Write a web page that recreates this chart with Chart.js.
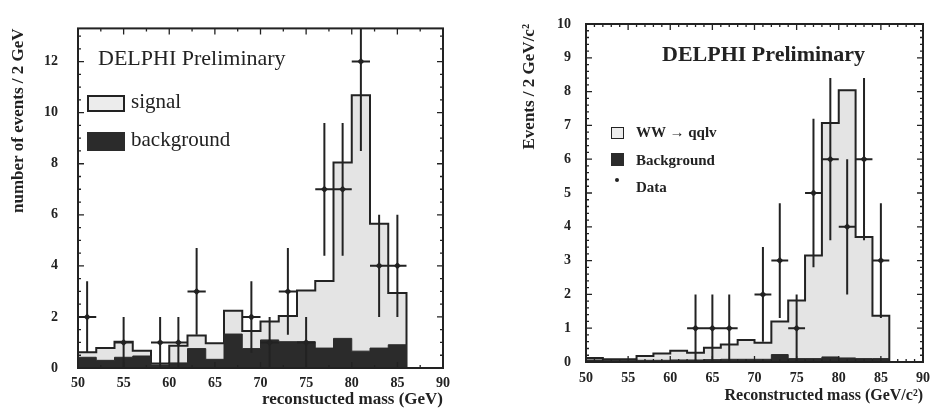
<!DOCTYPE html>
<html lang="en">
<head>
<meta charset="UTF-8">
<title>DELPHI Preliminary - reconstructed mass</title>
<script src="https://cdn.jsdelivr.net/npm/chart.js@4"></script>
<style>
  body { margin: 0; background: #fff; }
  #page { position: relative; width: 938px; height: 410px; overflow: hidden;
          font-family: "Liberation Serif", "DejaVu Serif", serif; color: #222; }
  .panel { position: absolute; top: 0; }
  .note { position: absolute; line-height: 1; white-space: nowrap; }
  .box { position: absolute; box-sizing: border-box; }
</style>
</head>
<body>
<div id="page">
  <canvas id="left" class="panel" width="470" height="410" style="left:0"></canvas>
  <canvas id="right" class="panel" width="468" height="410" style="left:470px"></canvas>

  <!-- left panel labels -->
  <div class="note" style="left:98px;top:47px;font-size:22px">DELPHI Preliminary</div>
  <div class="box" style="left:87px;top:95px;width:38px;height:17px;border:2px solid #222;background:#ececec"></div>
  <div class="note" style="left:131px;top:91px;font-size:21px">signal</div>
  <div class="box" style="left:87px;top:132px;width:38px;height:19px;background:#2b2b2b"></div>
  <div class="note" style="left:131px;top:129px;font-size:21px">background</div>

  <!-- right panel labels -->
  <div class="note" style="left:662px;top:43px;font-size:22px;font-weight:bold">DELPHI Preliminary</div>
  <div class="box" style="left:611px;top:127px;width:13px;height:12px;border:1.5px solid #222;background:#ececec"></div>
  <div class="note" style="left:636px;top:125px;font-size:15px;font-weight:bold">WW → qqlv</div>
  <div class="box" style="left:611px;top:153px;width:13px;height:13px;background:#2b2b2b"></div>
  <div class="note" style="left:636px;top:153px;font-size:15px;font-weight:bold">Background</div>
  <div class="box" style="left:615px;top:178px;width:4px;height:4px;border-radius:2px;background:#222"></div>
  <div class="note" style="left:636px;top:180px;font-size:15px;font-weight:bold">Data</div>
</div>

<script>
// bin lower edges (2 GeV bins)
const binLow = [50, 52, 54, 56, 58, 60, 62, 64, 66, 68, 70, 72, 74, 76, 78, 80, 82, 84];
const binWidth = 2;

// left: signal+background total, and background alone
const leftTotal = [0.62, 0.78, 1.03, 0.68, 0.18, 0.87, 1.27, 0.97, 2.24, 1.45, 1.82, 2.04, 3.04, 3.41, 8.05, 10.68, 5.65, 2.94];
const leftBackground = [0.42, 0.3, 0.42, 0.47, 0.12, 0.2, 0.76, 0.34, 1.33, 0.76, 1.1, 1.03, 1.03, 0.78, 1.16, 0.66, 0.78, 0.91];
const leftDataMass = [51, 55, 59, 61, 63, 69, 71, 73, 75, 77, 79, 81, 83, 85];
const leftDataCounts = [2, 1, 1, 1, 3, 2, 1, 3, 1, 7, 7, 12, 4, 4];
const leftDataErr = [1.4, 1, 1, 1, 1.7, 1.4, 1, 1.7, 1, 2.6, 2.6, 3.5, 2, 2];

// right: WW -> qqlv + background total, and background alone
const rightTotal = [0.12, 0.08, 0.08, 0.18, 0.25, 0.33, 0.27, 0.42, 0.52, 0.65, 0.57, 1.2, 1.82, 3.15, 7.07, 8.04, 3.7, 1.37];
const rightBackground = [0.06, 0.05, 0.05, 0.05, 0.05, 0.06, 0.06, 0.07, 0.08, 0.08, 0.08, 0.22, 0.1, 0.1, 0.15, 0.12, 0.1, 0.1];
const rightDataMass = [63, 65, 67, 71, 73, 75, 77, 79, 81, 83, 85];
const rightDataCounts = [1, 1, 1, 2, 3, 1, 5, 6, 4, 6, 3];
const rightDataErr = [1, 1, 1, 1.4, 1.7, 1, 2.2, 2.4, 2, 2.4, 1.7];

const massTicks = [50, 55, 60, 65, 70, 75, 80, 85, 90];

const INK = '#222';
const tickFont = { family: 'Liberation Serif', size: 14, weight: 'bold' };

// histogram outline as stepped points: up from 0, across each bin, down to 0
function stepPoints(vals) {
  const last = binLow[binLow.length - 1] + binWidth;
  const pts = [{ x: binLow[0], y: 0 }];
  vals.forEach((v, i) => pts.push({ x: binLow[i], y: v }));
  pts.push({ x: last, y: vals[vals.length - 1] });
  pts.push({ x: last, y: 0 });
  return pts;
}

// vertical error bar + horizontal bin-width bar for each data point, with gaps
function errorPoints(mass, counts, err) {
  const pts = [];
  mass.forEach((m, i) => {
    pts.push({ x: m, y: Math.max(0, counts[i] - err[i]) }, { x: m, y: counts[i] + err[i] }, { x: m, y: null });
    pts.push({ x: m - binWidth / 2, y: counts[i] }, { x: m + binWidth / 2, y: counts[i] }, { x: m, y: null });
  });
  return pts;
}

// box around the plot with inward ticks on all four sides
const frameTicks = {
  id: 'frameTicks',
  afterDatasetsDraw(chart, args, opts) {
    const { ctx, chartArea: a, scales: { x, y } } = chart;
    ctx.save();
    ctx.strokeStyle = INK;
    ctx.lineWidth = 1.3;
    ctx.beginPath();
    const nx = Math.round((x.max - x.min) / opts.xMinor);
    for (let i = 0; i <= nx; i++) {
      const px = x.getPixelForValue(x.min + i * opts.xMinor);
      const len = i % opts.xEvery === 0 ? opts.major : opts.minor;
      ctx.moveTo(px, a.bottom); ctx.lineTo(px, a.bottom - len);
      ctx.moveTo(px, a.top); ctx.lineTo(px, a.top + len);
    }
    const ny = Math.floor((y.max - y.min) / opts.yMinor + 1e-6);
    for (let i = 0; i <= ny; i++) {
      const py = y.getPixelForValue(y.min + i * opts.yMinor);
      const len = i % opts.yEvery === 0 ? opts.major : opts.minor;
      ctx.moveTo(a.left, py); ctx.lineTo(a.left + len, py);
      ctx.moveTo(a.right, py); ctx.lineTo(a.right - len, py);
    }
    ctx.stroke();
    ctx.lineWidth = 2;
    ctx.strokeRect(a.left, a.top, a.right - a.left, a.bottom - a.top);
    ctx.restore();
  }
};

function makePanel(id, p) {
  return new Chart(document.getElementById(id), {
    type: 'line',
    data: {
      datasets: [
        { data: stepPoints(p.total), stepped: true, fill: 'origin', backgroundColor: '#e4e4e4',
          borderColor: INK, borderWidth: 2, pointRadius: 0, order: 4 },
        { data: stepPoints(p.background), stepped: true, fill: 'origin', backgroundColor: '#2b2b2b',
          borderColor: '#2b2b2b', borderWidth: 1, pointRadius: 0, order: 3 },
        { data: errorPoints(p.mass, p.counts, p.err), borderColor: INK, borderWidth: 2,
          pointRadius: 0, spanGaps: false, fill: false, order: 2 },
        { data: p.mass.map((m, i) => ({ x: m, y: p.counts[i] })), showLine: false,
          pointStyle: 'rectRot', pointRadius: 3.5, pointBackgroundColor: INK, pointBorderWidth: 0, order: 1 }
      ]
    },
    options: {
      responsive: false,
      animation: false,
      events: [],
      layout: { padding: { left: 0, top: p.top, right: p.right, bottom: 0 } },
      plugins: {
        legend: { display: false },
        tooltip: { enabled: false },
        frameTicks: p.ticks
      },
      scales: {
        x: {
          type: 'linear', min: 50, max: 90,
          afterFit: s => { s.height = p.xHeight; },
          afterBuildTicks: s => { s.ticks = massTicks.map(v => ({ value: v })); },
          grid: { display: false, drawTicks: false },
          border: { display: false },
          ticks: { padding: p.xPad, color: INK, font: tickFont, maxRotation: 0, autoSkip: false },
          title: { display: true, text: p.xTitle, align: 'end', color: INK,
                   font: { family: 'Liberation Serif', size: p.xTitleSize, weight: 'bold', lineHeight: 1 },
                   padding: { top: 0, bottom: p.xTitlePad } }
        },
        y: {
          type: 'linear', min: 0, max: p.yMax,
          afterFit: s => { s.width = p.yWidth; },
          grid: { display: false, drawTicks: false },
          border: { display: false },
          ticks: { stepSize: p.yStep, includeBounds: false, padding: p.yPad, color: INK, font: tickFont },
          title: { display: true, text: p.yTitle, align: 'end', color: INK,
                   font: { family: 'Liberation Serif', size: p.yTitleSize, weight: 'bold', lineHeight: 1 },
                   padding: { top: p.yTitlePad, bottom: 0 } }
        }
      }
    },
    plugins: [frameTicks]
  });
}

makePanel('left', {
  total: leftTotal, background: leftBackground,
  mass: leftDataMass, counts: leftDataCounts, err: leftDataErr,
  top: 14, right: 27, xHeight: 42, yWidth: 78, yMax: 13.3, yStep: 2,
  xPad: 7, yPad: 20,
  xTitle: 'reconstucted mass (GeV)', xTitleSize: 17, xTitlePad: 2,
  yTitle: 'number of events / 2 GeV', yTitleSize: 17, yTitlePad: 10,
  ticks: { xMinor: 2.5, xEvery: 2, yMinor: 0.5, yEvery: 4, major: 6, minor: 3 }
});

makePanel('right', {
  total: rightTotal, background: rightBackground,
  mass: rightDataMass, counts: rightDataCounts, err: rightDataErr,
  top: 24, right: 9, xHeight: 48, yWidth: 116, yMax: 10, yStep: 1,
  xPad: 8, yPad: 15,
  xTitle: 'Reconstructed mass (GeV/c²)', xTitleSize: 16, xTitlePad: 6,
  yTitle: 'Events / 2 GeV/c²', yTitleSize: 17, yTitlePad: 51,
  ticks: { xMinor: 1, xEvery: 5, yMinor: 0.2, yEvery: 5, major: 6, minor: 3 }
});
</script>
</body>
</html>
